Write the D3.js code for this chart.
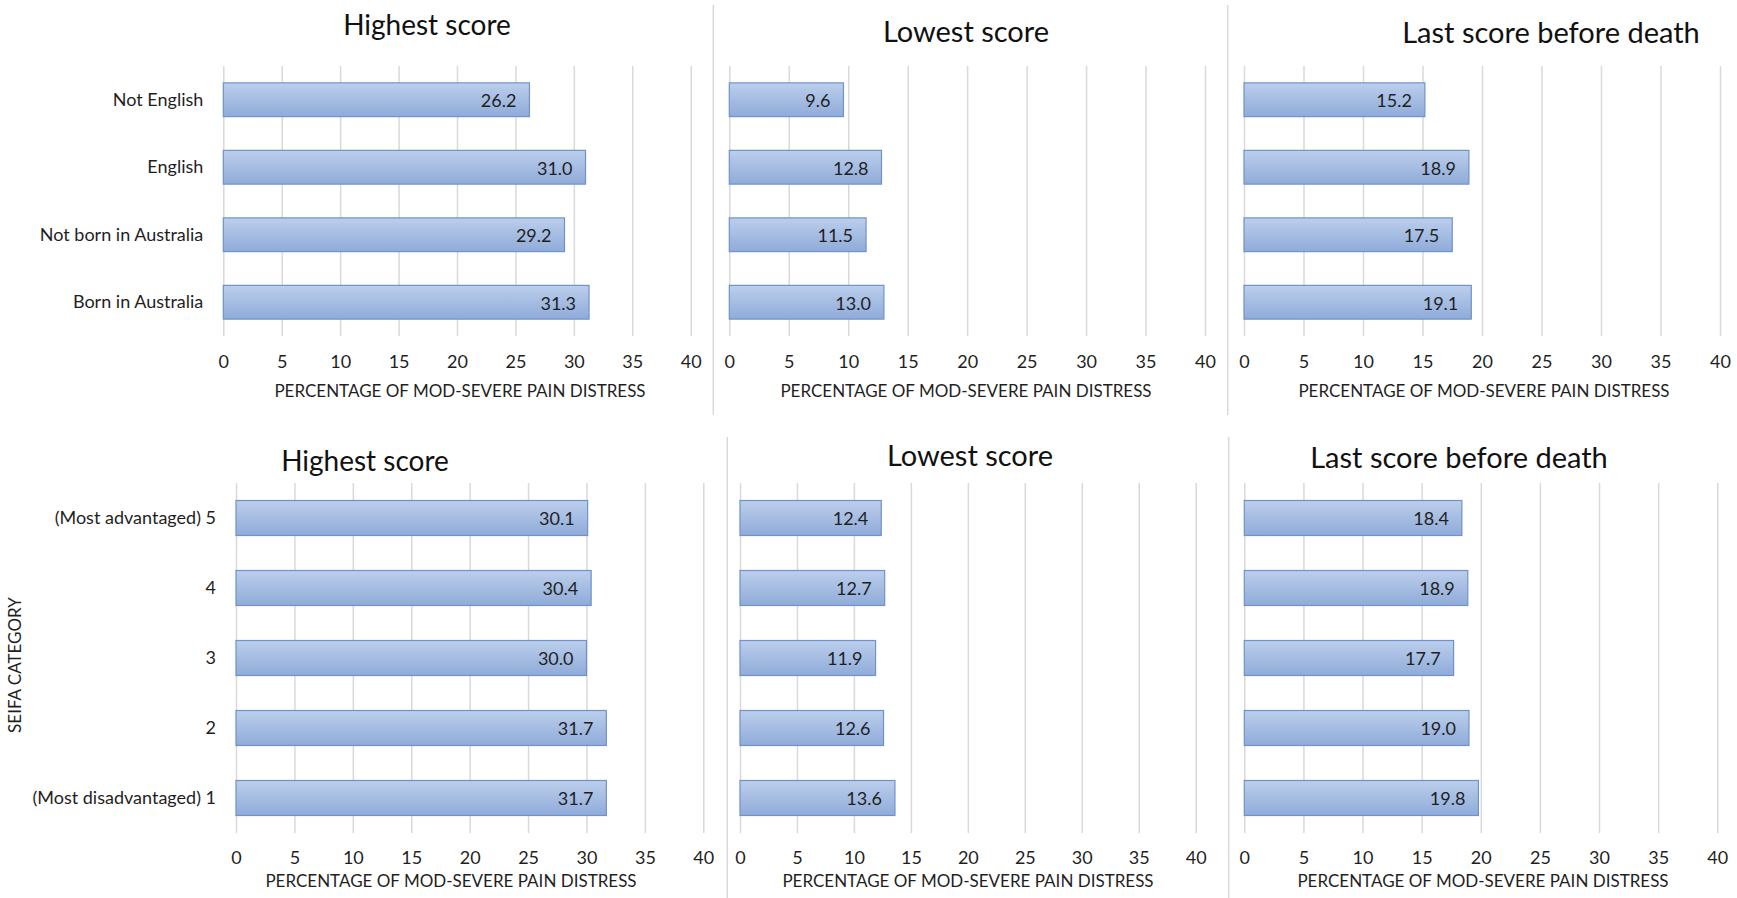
<!DOCTYPE html>
<html>
<head>
<meta charset="utf-8">
<script src="https://cdn.jsdelivr.net/npm/d3@7"></script>
<style>
  html, body { margin: 0; padding: 0; background: #fff; }
  svg { display: block; font-family: Lato, "Open Sans", sans-serif; }
</style>
</head>
<body>
<svg id="chart" width="1737" height="898"></svg>
<script>
// Categories
const langCategories = ["Not English", "English", "Not born in Australia", "Born in Australia"];
const seifaCategories = ["(Most advantaged) 5", "4", "3", "2", "(Most disadvantaged) 1"];

// Percentage of moderate-severe pain distress, language / birthplace groups
const langHighest = [26.2, 31.0, 29.2, 31.3];
const langLowest  = [9.6, 12.8, 11.5, 13.0];
const langLast    = [15.2, 18.9, 17.5, 19.1];

// Percentage of moderate-severe pain distress, SEIFA quintiles
const seifaHighest = [30.1, 30.4, 30.0, 31.7, 31.7];
const seifaLowest  = [12.4, 12.7, 11.9, 12.6, 13.6];
const seifaLast    = [18.4, 18.9, 17.7, 19.0, 19.8];

// Axis
const xTicks = [0, 5, 10, 15, 20, 25, 30, 35, 40];
const xMax = 40;
const panelTitles = ["Highest score", "Lowest score", "Last score before death"];
const xAxisTitle = "PERCENTAGE OF MOD-SEVERE PAIN DISTRESS";
const yAxisTitle = "SEIFA CATEGORY";

const svg = d3.select("#chart");

// bar gradient
const defs = svg.append("defs");
const grad = defs.append("linearGradient").attr("id", "barGrad")
  .attr("x1", 0).attr("y1", 0).attr("x2", 0).attr("y2", 1);
grad.append("stop").attr("offset", "0%").attr("stop-color", "#bccfec");
grad.append("stop").attr("offset", "100%").attr("stop-color", "#8fabd9");

const gridColor = "#d9d9d9";
const textColor = "#1f1f1f";

// panel layout: [x0, x1, y0, y1]
const rows = [
  {
    cats: langCategories,
    series: [langHighest, langLowest, langLast],
    y: [66, 336],
    xs: [[223.3, 690.7], [729.3, 1205], [1244, 1720]],
    titles: [{x: 427, y: 35}, {x: 966, y: 42}, {x: 1551, y: 43}],
    axisTitleX: [460, 966, 1484],
    tickY: 362, axisTitleY: 391,
    dividers: [713.3, 1227.7], divY: [5, 415]
  },
  {
    cats: seifaCategories,
    series: [seifaHighest, seifaLowest, seifaLast],
    y: [483, 833],
    xs: [[236, 703.3], [740, 1195.7], [1244.3, 1717.3]],
    titles: [{x: 365, y: 471}, {x: 970, y: 466}, {x: 1459, y: 468}],
    axisTitleX: [451, 968, 1483],
    tickY: 858, axisTitleY: 881,
    dividers: [727.3, 1228.7], divY: [437, 898]
  }
];

rows.forEach(row => {
  // vertical dividers between panels
  row.dividers.forEach(dx => {
    svg.append("line")
      .attr("x1", dx).attr("x2", dx)
      .attr("y1", row.divY[0]).attr("y2", row.divY[1])
      .attr("stroke", gridColor).attr("stroke-width", 1.5);
  });

  const y = d3.scaleBand()
    .domain(row.cats)
    .range(row.y)
    .paddingInner(0.5)
    .paddingOuter(0.25);

  row.series.forEach((vals, pi) => {
    const [x0, x1] = row.xs[pi];
    const x = d3.scaleLinear().domain([0, xMax]).range([x0, x1]);
    const g = svg.append("g");

    // gridlines + tick labels
    const ax = g.append("g")
      .attr("transform", `translate(0,${row.y[1]})`)
      .call(d3.axisBottom(x).tickValues(xTicks).tickFormat(d3.format("d"))
        .tickSizeInner(-(row.y[1] - row.y[0])).tickSizeOuter(0));
    ax.select(".domain").remove();
    ax.selectAll(".tick line").attr("stroke", gridColor).attr("stroke-width", 1.5);
    ax.selectAll(".tick text")
      .attr("y", row.tickY - row.y[1]).attr("dy", "0.35em")
      .attr("fill", textColor)
      .style("font-size", "18px").style("font-family", "Lato, sans-serif");

    // bars
    const data = row.cats.map((c, i) => ({cat: c, v: vals[i]}));
    g.selectAll("rect.bar").data(data).join("rect")
      .attr("class", "bar")
      .attr("x", x(0))
      .attr("y", d => y(d.cat))
      .attr("width", d => x(d.v) - x(0))
      .attr("height", y.bandwidth())
      .attr("fill", "url(#barGrad)")
      .attr("stroke", "#7092cc")
      .attr("stroke-width", 1.2);

    // value labels (inside end)
    g.selectAll("text.val").data(data).join("text")
      .attr("class", "val")
      .attr("x", d => x(d.v) - 13)
      .attr("y", d => y(d.cat) + y.bandwidth() / 2 + 1)
      .attr("dy", "0.35em")
      .attr("text-anchor", "end")
      .attr("fill", textColor)
      .style("font-size", "18px")
      .text(d => d.v.toFixed(1));

    // category axis on the first panel of each row
    if (pi === 0) {
      const ay = g.append("g")
        .attr("transform", `translate(${x0},0)`)
        .call(d3.axisLeft(y).tickSize(0).tickPadding(20));
      ay.select(".domain").remove();
      ay.selectAll(".tick text")
        .attr("fill", textColor)
        .style("font-size", "18px").style("font-family", "Lato, sans-serif");
    }

    // panel title
    svg.append("text")
      .attr("x", row.titles[pi].x).attr("y", row.titles[pi].y)
      .attr("text-anchor", "middle")
      .attr("fill", "#111")
      .style("font-size", pi === 0 ? "28px" : "29px")
      .text(panelTitles[pi]);

    // x axis title
    svg.append("text")
      .attr("x", row.axisTitleX[pi]).attr("y", row.axisTitleY)
      .attr("dy", "0.35em")
      .attr("text-anchor", "middle")
      .attr("fill", textColor)
      .style("font-size", "17px")
      .text(xAxisTitle);
  });
});

// y axis title for the SEIFA row
svg.append("text")
  .attr("transform", "translate(15,665) rotate(-90)")
  .attr("text-anchor", "middle")
  .attr("dy", "0.35em")
  .attr("fill", textColor)
  .style("font-size", "17px")
  .text(yAxisTitle);
</script>
</body>
</html>
